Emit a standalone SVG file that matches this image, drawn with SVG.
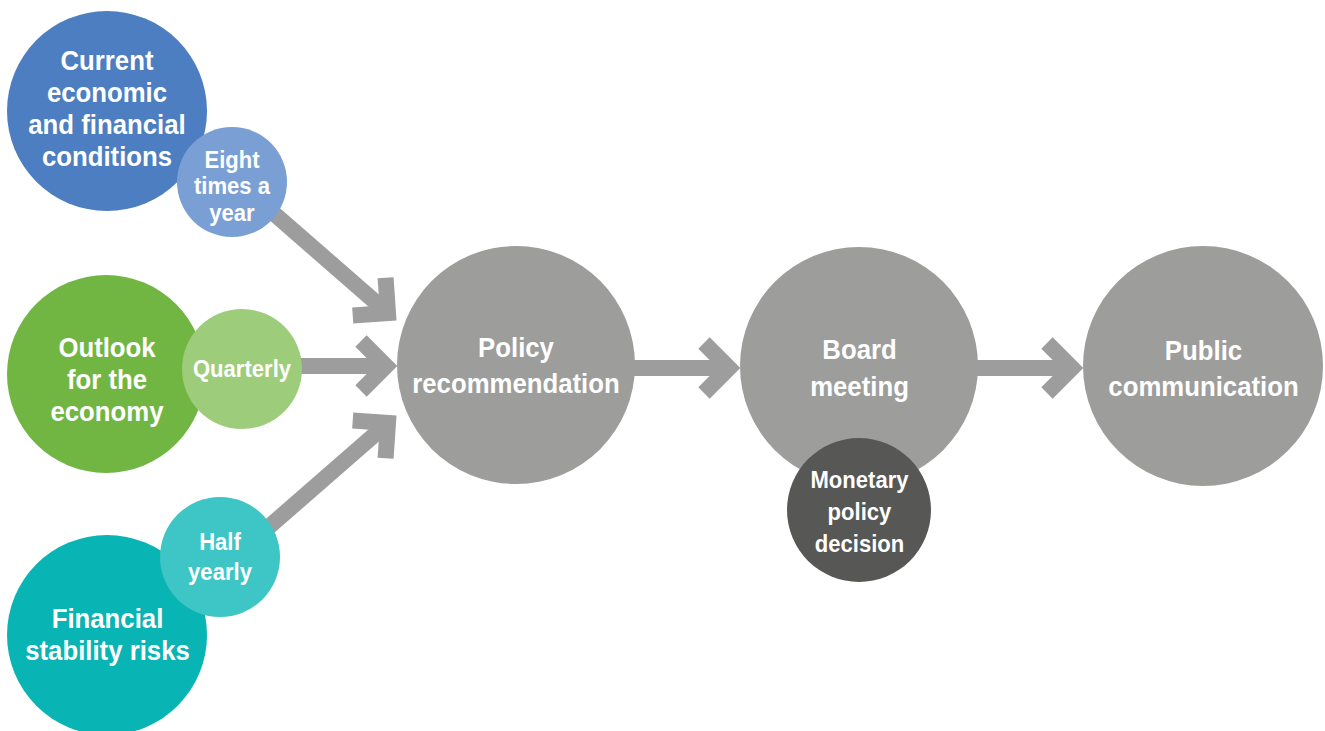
<svg xmlns="http://www.w3.org/2000/svg" width="1325" height="731" viewBox="0 0 1325 731">
<style>
.t{font-family:"Liberation Sans",Arial,sans-serif;font-weight:bold;fill:#fff;text-anchor:middle}
.big{font-size:28px}
.sm{font-size:24px}
.shaft{fill:none;stroke:#9D9D9D;stroke-width:16;marker-end:url(#chev)}
</style>
<defs>
<marker id="chev" markerUnits="userSpaceOnUse" viewBox="-40 -40 60 80" markerWidth="60" markerHeight="80" refX="0" refY="0" orient="auto" overflow="visible">
<path d="M-25,-25 L0,0 L-25,25" fill="none" stroke="#9D9D9D" stroke-width="16" stroke-linejoin="miter"/>
</marker>
</defs>
<rect width="1325" height="731" fill="#fff"/>
<g id="connectors">
<path class="shaft" d="M263,204 L388,313"/>
<path class="shaft" d="M300,366 L386,366"/>
<path class="shaft" d="M263,532 L388,423"/>
<path class="shaft" d="M630,368 L729,368"/>
<path class="shaft" d="M975,368 L1072,368"/>
</g>
<g id="current">
<circle cx="107" cy="111" r="100" fill="#4C7EC1"/>
<text class="t big" transform="translate(107 0) scale(0.92 1)"><tspan x="0" y="70">Current</tspan><tspan x="0" y="102">economic</tspan><tspan x="0" y="134">and financial</tspan><tspan x="0" y="166">conditions</tspan></text>
</g>
<g id="eight">
<circle cx="232" cy="182" r="55" fill="#7A9FD5"/>
<text class="t sm" transform="translate(232 0) scale(0.92 1)"><tspan x="0" y="168">Eight</tspan><tspan x="0" y="194.5">times a</tspan><tspan x="0" y="221">year</tspan></text>
</g>
<g id="outlook">
<circle cx="106" cy="374" r="99" fill="#71B542"/>
<text class="t big" transform="translate(107 0) scale(0.92 1)"><tspan x="0" y="357">Outlook</tspan><tspan x="0" y="389">for the</tspan><tspan x="0" y="421">economy</tspan></text>
</g>
<g id="quarterly">
<circle cx="242" cy="369" r="60" fill="#9DCD7A"/>
<text class="t sm" transform="translate(242 0) scale(0.92 1)"><tspan x="0" y="377">Quarterly</tspan></text>
</g>
<g id="financial">
<circle cx="107" cy="635" r="100" fill="#08B4B4"/>
<text class="t big" transform="translate(107.5 0) scale(0.92 1)"><tspan x="0" y="628">Financial</tspan><tspan x="0" y="660">stability risks</tspan></text>
</g>
<g id="half">
<circle cx="220" cy="557" r="60" fill="#3EC5C5"/>
<text class="t sm" transform="translate(220 0) scale(0.92 1)"><tspan x="0" y="550">Half</tspan><tspan x="0" y="580">yearly</tspan></text>
</g>
<g id="policy">
<circle cx="516" cy="365" r="119" fill="#9D9D9C"/>
<text class="t big" transform="translate(516 0) scale(0.92 1)"><tspan x="0" y="357">Policy</tspan><tspan x="0" y="393">recommendation</tspan></text>
</g>
<g id="board">
<circle cx="859" cy="366" r="119" fill="#9D9D9C"/>
<text class="t big" transform="translate(859.5 0) scale(0.92 1)"><tspan x="0" y="359">Board</tspan><tspan x="0" y="396">meeting</tspan></text>
</g>
<g id="monetary">
<circle cx="859" cy="510" r="72" fill="#575756"/>
<text class="t sm" transform="translate(859.5 0) scale(0.92 1)"><tspan x="0" y="488">Monetary</tspan><tspan x="0" y="520">policy</tspan><tspan x="0" y="552">decision</tspan></text>
</g>
<g id="public">
<circle cx="1203" cy="366" r="120" fill="#9D9D9C"/>
<text class="t big" transform="translate(1203.5 0) scale(0.92 1)"><tspan x="0" y="360">Public</tspan><tspan x="0" y="396">communication</tspan></text>
</g>
</svg>
